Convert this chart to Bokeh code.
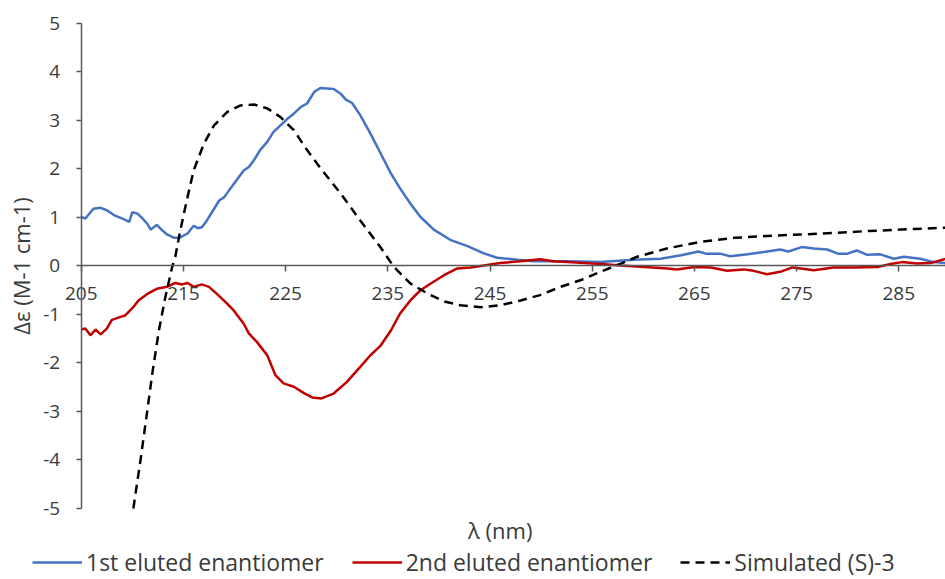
from bokeh.plotting import figure
from bokeh.models import Range1d, FixedTicker, Legend, LegendItem, Label, LinearAxis
from bokeh.embed import file_html
from bokeh.resources import INLINE

# ---------------- data ----------------
wl_first = [205.0, 205.4, 206.2, 206.9, 207.5, 208.2, 209.2, 209.7, 210.0, 210.5,
            211.0, 211.5, 211.8, 212.4, 212.9, 213.4, 214.1, 214.6, 215.4, 216.0,
            216.4, 216.8, 217.3, 218.0, 218.5, 219.0, 219.6, 220.3, 220.9, 221.4,
            221.9, 222.5, 223.2, 223.8, 224.5, 225.2, 225.8, 226.5, 227.1, 227.8,
            228.4, 229.7, 230.4, 230.9, 231.5, 232.3, 233.3, 234.3, 235.3, 236.2,
            237.2, 238.2, 239.5, 241.1, 242.8, 244.4, 245.7, 247.7, 249.3, 252.6,
            255.8, 259.1, 261.7, 263.7, 265.4, 266.2, 267.6, 268.5, 270.2, 271.8,
            273.4, 274.2, 275.5, 276.7, 278.0, 279.1, 279.9, 280.9, 281.9, 283.2,
            284.5, 285.5, 287.1, 288.4, 289.6]
de_first = [1.01, 0.98, 1.18, 1.20, 1.15, 1.05, 0.96, 0.91, 1.11, 1.08,
            0.98, 0.86, 0.75, 0.85, 0.74, 0.65, 0.58, 0.58, 0.67, 0.83,
            0.78, 0.80, 0.94, 1.18, 1.35, 1.42, 1.60, 1.80, 1.97, 2.04,
            2.18, 2.39, 2.56, 2.76, 2.90, 3.04, 3.14, 3.28, 3.35, 3.59,
            3.67, 3.65, 3.55, 3.43, 3.36, 3.11, 2.73, 2.32, 1.91, 1.60,
            1.29, 1.01, 0.75, 0.54, 0.41, 0.26, 0.17, 0.13, 0.10, 0.10,
            0.08, 0.13, 0.15, 0.22, 0.30, 0.25, 0.25, 0.20, 0.24, 0.29,
            0.34, 0.30, 0.39, 0.36, 0.34, 0.25, 0.25, 0.32, 0.23, 0.24,
            0.15, 0.19, 0.15, 0.08, 0.06]

wl_second = [205.0, 205.4, 205.9, 206.4, 206.9, 207.5, 208.0, 208.7, 209.3, 210.0,
             210.6, 211.5, 212.4, 213.4, 214.2, 214.9, 215.4, 216.0, 216.8, 217.5,
             218.3, 219.3, 219.9, 220.9, 221.4, 222.2, 223.2, 224.0, 224.8, 225.8,
             226.8, 227.6, 228.5, 229.7, 231.0, 232.3, 233.3, 234.3, 235.3, 236.2,
             237.2, 238.2, 239.2, 240.5, 241.8, 243.1, 244.4, 246.0, 248.0, 249.9,
             251.2, 252.6, 254.2, 255.8, 257.8, 260.1, 262.4, 263.3, 265.0, 266.6,
             268.2, 269.8, 270.8, 272.1, 273.4, 274.6, 275.4, 276.7, 278.6, 280.6,
             282.9, 284.2, 285.3, 286.8, 288.1, 289.6]
de_second = [-1.31, -1.29, -1.43, -1.31, -1.41, -1.29, -1.11, -1.06, -1.02, -0.87,
             -0.71, -0.57, -0.47, -0.43, -0.35, -0.38, -0.35, -0.43, -0.38, -0.43,
             -0.58, -0.78, -0.91, -1.19, -1.39, -1.57, -1.84, -2.25, -2.42, -2.49,
             -2.62, -2.71, -2.73, -2.63, -2.39, -2.08, -1.84, -1.64, -1.33, -0.98,
             -0.71, -0.50, -0.36, -0.19, -0.05, -0.03, 0.01, 0.06, 0.10, 0.14,
             0.10, 0.08, 0.06, 0.04, 0.01, -0.02, -0.05, -0.07, -0.02, -0.03,
             -0.10, -0.07, -0.10, -0.17, -0.12, -0.03, -0.05, -0.09, -0.03, -0.03,
             -0.02, 0.04, 0.08, 0.05, 0.06, 0.15]

wl_sim = [210.1, 210.8, 211.4, 212.0, 212.6, 213.2, 213.9, 214.2, 214.7, 215.4,
          216.0, 217.0, 218.0, 219.3, 220.6, 221.9, 223.2, 224.5, 225.8, 227.1,
          228.4, 230.4, 232.3, 234.3, 235.6, 237.2, 238.9, 240.5, 242.1, 244.1,
          246.0, 248.0, 249.9, 251.9, 253.9, 255.8, 257.8, 259.4, 262.3, 265.6,
          268.9, 272.1, 275.4, 278.6, 281.9, 285.2, 289.6]
de_sim = [-5.0, -4.0, -3.08, -2.15, -1.33, -0.67, -0.02, 0.19, 0.74, 1.42,
          1.97, 2.52, 2.90, 3.18, 3.31, 3.33, 3.25, 3.07, 2.80, 2.39,
          2.02, 1.49, 0.94, 0.38, -0.02, -0.36, -0.57, -0.73, -0.81, -0.85,
          -0.81, -0.71, -0.60, -0.43, -0.29, -0.12, 0.05, 0.19, 0.36, 0.50,
          0.58, 0.62, 0.65, 0.68, 0.72, 0.75, 0.79]

x_ticks = [205, 215, 225, 235, 245, 255, 265, 275, 285]
x_tick_labels = ["205", "215", "225", "235", "245", "255", "265", "275", "285"]
y_ticks = [-5, -4, -3, -2, -1, 0, 1, 2, 3, 4, 5]
y_tick_labels = ["-5", "-4", "-3", "-2", "-1", "0", "1", "2", "3", "4", "5"]

series_names = ["1st eluted enantiomer", "2nd eluted enantiomer", "Simulated (S)-3"]
x_title = "λ (nm)"
y_title = "Δε (M-1 cm-1)"

# ---------------- figure ----------------
FONT = "Open Sans"
TXT = "#3a3a3a"
AX = "#595959"

X_MIN, X_MAX = 205, 289.57
Y_MIN, Y_MAX = -5, 5

p = figure(width=945, height=579, output_backend="svg", toolbar_location=None,
           x_range=Range1d(197.10, X_MAX), y_range=Range1d(-6.464, 5.474),
           x_axis_type=None, y_axis_type=None,
           min_border_left=0, min_border_right=0, min_border_top=0,
           min_border_bottom=0)
p.outline_line_color = None
p.grid.visible = False
p.background_fill_color = "white"
p.border_fill_color = "white"

# x axis drawn at y = 0
xa = LinearAxis(fixed_location=0, bounds=(X_MIN, X_MAX))
xa.ticker = FixedTicker(ticks=x_ticks)
xa.major_label_overrides = {t: s for t, s in zip(x_ticks, x_tick_labels)}
xa.major_tick_in = 0
xa.major_tick_out = 6
xa.minor_tick_line_color = None
xa.axis_line_color = AX
xa.axis_line_width = 1.5
xa.major_tick_line_color = AX
xa.major_tick_line_width = 1.5
xa.major_label_standoff = 15
xa.major_label_text_font = FONT
xa.major_label_text_font_size = "19px"
xa.major_label_text_color = TXT
p.add_layout(xa, "below")

# y axis drawn at x = 205
ya = LinearAxis(fixed_location=X_MIN, bounds=(Y_MIN, Y_MAX))
ya.ticker = FixedTicker(ticks=y_ticks)
ya.major_label_overrides = {t: s for t, s in zip(y_ticks, y_tick_labels)}
ya.major_tick_in = 0
ya.major_tick_out = 5
ya.minor_tick_line_color = None
ya.axis_line_color = AX
ya.axis_line_width = 1.5
ya.major_tick_line_color = AX
ya.major_tick_line_width = 1.5
ya.major_label_standoff = 16
ya.major_label_text_font = FONT
ya.major_label_text_font_size = "19px"
ya.major_label_text_color = TXT
ya.axis_label = y_title
ya.axis_label_text_font = FONT
ya.axis_label_text_font_size = "22px"
ya.axis_label_text_font_style = "normal"
ya.axis_label_text_color = TXT
ya.axis_label_standoff = 5
p.add_layout(ya, "left")

r1 = p.line(wl_first, de_first, line_color="#4472C4", line_width=2.5)
r2 = p.line(wl_second, de_second, line_color="#C00000", line_width=2.5)
r3 = p.line(wl_sim, de_sim, line_color="black", line_width=2.5, line_dash="9 6")

p.add_layout(Label(x=246.0, y=-5.44, text=x_title, text_align="center",
                   text_baseline="middle", text_font=FONT, text_font_size="22px",
                   text_color=TXT))

legend = Legend(items=[LegendItem(label=series_names[0], renderers=[r1]),
                       LegendItem(label=series_names[1], renderers=[r2]),
                       LegendItem(label=series_names[2], renderers=[r3])],
                orientation="horizontal", location=(32, 1),
                glyph_width=50, glyph_height=20, label_standoff=4, spacing=28,
                padding=0, margin=0, border_line_color=None,
                background_fill_alpha=0, label_text_font=FONT,
                label_text_font_size="23px", label_text_color=TXT)
p.add_layout(legend, "center")

open("out.html", "w").write(file_html(p, INLINE))
